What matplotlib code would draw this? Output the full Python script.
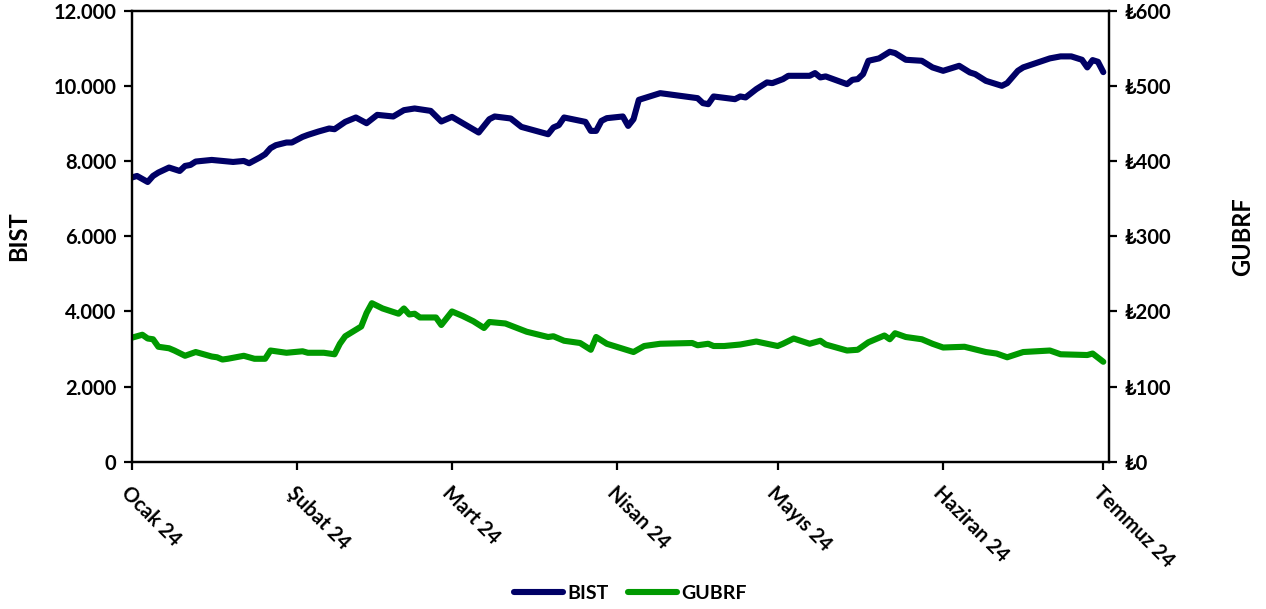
import matplotlib
matplotlib.use("Agg")
import matplotlib.pyplot as plt
from matplotlib.ticker import FuncFormatter, MultipleLocator
import pandas as pd

# ---------------- data ----------------
bist_dates = [
    "2024-01-01", "2024-01-02", "2024-01-04", "2024-01-05", "2024-01-06", "2024-01-08",
    "2024-01-10", "2024-01-11", "2024-01-12", "2024-01-13", "2024-01-16", "2024-01-18",
    "2024-01-20", "2024-01-22", "2024-01-23", "2024-01-25", "2024-01-26", "2024-01-27",
    "2024-01-28", "2024-01-30", "2024-01-31",
    "2024-02-02", "2024-02-03", "2024-02-05", "2024-02-07", "2024-02-08", "2024-02-10",
    "2024-02-12", "2024-02-14", "2024-02-16", "2024-02-19", "2024-02-21", "2024-02-23",
    "2024-02-26", "2024-02-28",
    "2024-03-01", "2024-03-06", "2024-03-08", "2024-03-09", "2024-03-12", "2024-03-14",
    "2024-03-19", "2024-03-20", "2024-03-21", "2024-03-22", "2024-03-26", "2024-03-27",
    "2024-03-28", "2024-03-29", "2024-03-30",
    "2024-04-02", "2024-04-03", "2024-04-04", "2024-04-05", "2024-04-09", "2024-04-16",
    "2024-04-17", "2024-04-18", "2024-04-19", "2024-04-23", "2024-04-24", "2024-04-25",
    "2024-04-27", "2024-04-29", "2024-04-30",
    "2024-05-02", "2024-05-03", "2024-05-07", "2024-05-08", "2024-05-09", "2024-05-10",
    "2024-05-14", "2024-05-15", "2024-05-16", "2024-05-17", "2024-05-18", "2024-05-20",
    "2024-05-22", "2024-05-23", "2024-05-25", "2024-05-28", "2024-05-30",
    "2024-06-01", "2024-06-04", "2024-06-06", "2024-06-07", "2024-06-09", "2024-06-12",
    "2024-06-13", "2024-06-15", "2024-06-16", "2024-06-21", "2024-06-23", "2024-06-25",
    "2024-06-27", "2024-06-28", "2024-06-29", "2024-06-30",
    "2024-07-01",
]
bist_values = [
    7565, 7608, 7448, 7608, 7699, 7832,
    7741, 7875, 7901, 7992, 8035, 8008,
    7981, 8008, 7947, 8099, 8187, 8347,
    8427, 8499, 8499,
    8648, 8701, 8792, 8872, 8853, 9048,
    9165, 9013, 9235, 9192, 9360, 9405,
    9341, 9059,
    9181, 8765, 9120, 9192, 9139, 8915,
    8720, 8899, 8960, 9165, 9048, 8808,
    8808, 9075, 9147,
    9192, 8941, 9120, 9635, 9813, 9680,
    9547, 9520, 9725, 9653, 9725, 9699,
    9920, 10099, 10080,
    10187, 10275, 10275, 10347, 10232, 10259,
    10053, 10168, 10187, 10320, 10675, 10739,
    10915, 10880, 10702, 10675, 10499,
    10408, 10541, 10365, 10320, 10141, 10008,
    10080, 10408, 10499, 10739, 10792, 10792,
    10702, 10499, 10693, 10648,
    10373,
]

gubrf_dates = [
    "2024-01-01", "2024-01-03", "2024-01-04", "2024-01-05", "2024-01-06", "2024-01-08",
    "2024-01-09", "2024-01-11", "2024-01-13", "2024-01-16", "2024-01-17", "2024-01-18",
    "2024-01-19", "2024-01-22", "2024-01-24", "2024-01-26", "2024-01-27", "2024-01-30",
    "2024-02-02", "2024-02-03", "2024-02-06", "2024-02-08", "2024-02-09", "2024-02-10",
    "2024-02-13", "2024-02-14", "2024-02-15", "2024-02-17", "2024-02-20", "2024-02-21",
    "2024-02-22", "2024-02-23", "2024-02-24", "2024-02-27", "2024-02-28",
    "2024-03-01", "2024-03-03", "2024-03-05", "2024-03-07", "2024-03-08", "2024-03-11",
    "2024-03-15", "2024-03-19", "2024-03-20", "2024-03-22", "2024-03-25", "2024-03-27",
    "2024-03-28", "2024-03-30",
    "2024-04-04", "2024-04-06", "2024-04-09", "2024-04-15", "2024-04-16", "2024-04-18",
    "2024-04-19", "2024-04-21", "2024-04-24", "2024-04-27", "2024-04-29",
    "2024-05-01", "2024-05-02", "2024-05-04", "2024-05-07", "2024-05-09", "2024-05-10",
    "2024-05-14", "2024-05-16", "2024-05-18", "2024-05-21", "2024-05-22", "2024-05-23",
    "2024-05-25", "2024-05-28", "2024-05-30",
    "2024-06-01", "2024-06-05", "2024-06-09", "2024-06-11", "2024-06-13", "2024-06-16",
    "2024-06-21", "2024-06-23", "2024-06-28", "2024-06-29",
    "2024-07-01",
]
gubrf_values = [
    165, 169, 164, 163, 153, 151,
    148, 141, 146, 140, 139, 136,
    137, 141, 137, 137, 148, 145,
    147, 145, 145, 143, 157, 167,
    180, 198, 211, 204, 197, 204,
    196, 197, 192, 192, 182,
    200, 194, 187, 178, 186, 184,
    173, 166, 167, 161, 158, 149,
    166, 157,
    146, 154, 157, 158, 155, 157,
    154, 154, 156, 160, 157,
    154, 157, 164, 157, 161, 156,
    148, 149, 159, 168, 163, 171,
    166, 163, 157,
    152, 153, 146, 144, 139, 146,
    148, 143, 142, 144,
    133,
]

month_ticks = ["2024-01-01", "2024-02-01", "2024-03-01", "2024-04-01",
               "2024-05-01", "2024-06-01", "2024-07-01"]
month_labels = ["Ocak 24", "Şubat 24", "Mart 24", "Nisan 24",
                "Mayıs 24", "Haziran 24", "Temmuz 24"]

# ---------------- style ----------------
FONT = ["Lato", "DejaVu Sans"]
plt.rcParams["font.family"] = FONT
plt.rcParams["font.weight"] = "bold"

navy = "#000066"
green = "#009900"

fig = plt.figure(figsize=(12.66, 6.09), dpi=100)
ax = fig.add_axes([0.1040, 0.2419, 0.7717, 0.740])
ax2 = ax.twinx()

bd = pd.to_datetime(bist_dates)
gd = pd.to_datetime(gubrf_dates)

l1, = ax.plot(bd, bist_values, color=navy, lw=4.4, solid_joinstyle="round",
              solid_capstyle="round", label="BIST")
l2, = ax2.plot(gd, gubrf_values, color=green, lw=4.4, solid_joinstyle="round",
               solid_capstyle="round", label="GUBRF")

ax.set_ylim(0, 12000)
ax2.set_ylim(0, 600)
ax.yaxis.set_major_locator(MultipleLocator(2000))
ax2.yaxis.set_major_locator(MultipleLocator(100))
ax.yaxis.set_major_formatter(FuncFormatter(lambda v, p: f"{int(v):,}".replace(",", ".")))
ax2.yaxis.set_major_formatter(FuncFormatter(lambda v, p: f"₺{int(v)}"))

ax.set_xlim(pd.Timestamp("2024-01-01"), pd.Timestamp("2024-07-02"))
ax.set_xticks(pd.to_datetime(month_ticks))
ax.set_xticklabels(month_labels, rotation=-45, ha="left", va="top",
                   rotation_mode="anchor", fontsize=14.5, fontweight="bold")

for a in (ax, ax2):
    for s in a.spines.values():
        s.set_linewidth(1.6)
        s.set_color("#000000")
    a.tick_params(axis="both", direction="out", length=6, width=1.6,
                  labelsize=14.5, colors="#000000")
for lab in ax.get_yticklabels() + ax2.get_yticklabels():
    lab.set_fontweight("bold")
ax.tick_params(axis="x", pad=9)
ax.tick_params(axis="y", pad=5)
ax2.tick_params(axis="y", pad=5)

ax.set_ylabel("BIST", fontsize=17, fontweight="bold", va="center")
ax2.set_ylabel("GUBRF", fontsize=17, fontweight="bold", va="center")
ax.yaxis.set_label_coords(-0.1159, 0.5)
ax2.yaxis.set_label_coords(1.1375, 0.5)

fig.legend(handles=[l1, l2], loc="center", bbox_to_anchor=(0.498, 0.026),
           ncol=2, frameon=False, fontsize=14, handlelength=2.5,
           handletextpad=0.25, columnspacing=1.0)

fig.savefig("out.png", dpi=100)
